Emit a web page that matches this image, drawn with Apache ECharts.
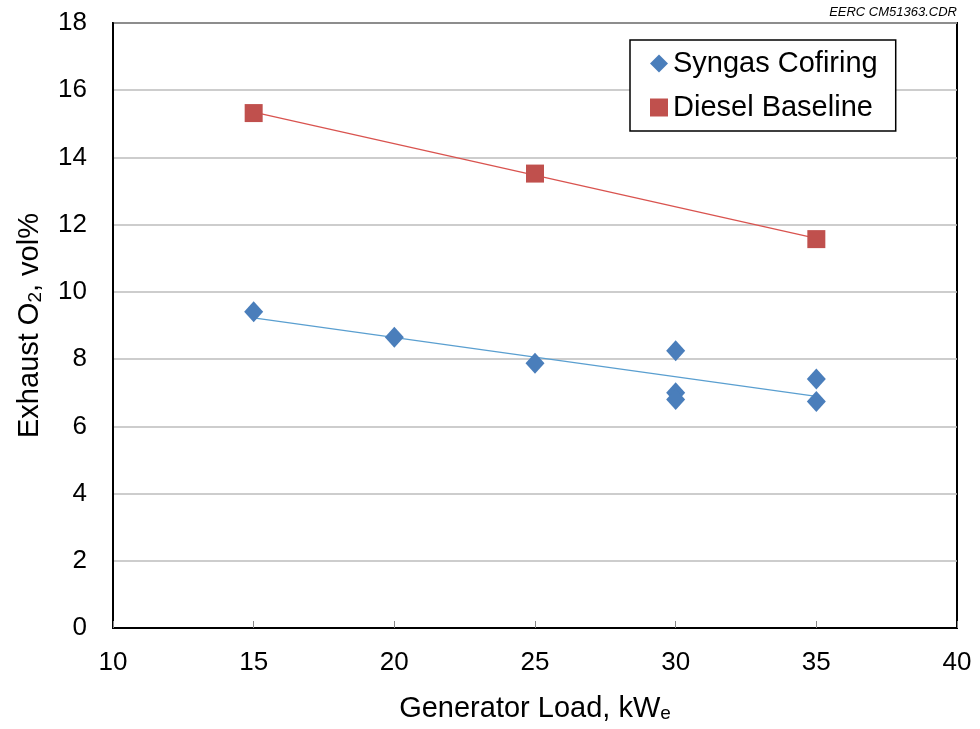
<!DOCTYPE html>
<html>
<head>
<meta charset="utf-8">
<script src="https://cdn.jsdelivr.net/npm/echarts@6/dist/echarts.min.js"></script>
<style>html,body{margin:0;padding:0;background:#fff;}#c{width:980px;height:729px;}</style>
</head>
<body>
<div id="c"></div>
<script>
// Data
const syngasLoad = [15, 20, 25, 30, 30, 30, 35, 35];
const syngasO2   = [9.41, 8.65, 7.88, 8.25, 7.00, 6.80, 7.41, 6.74];
const dieselLoad = [15, 25, 35];
const dieselO2   = [15.32, 13.52, 11.57];
const xTicks = [10, 15, 20, 25, 30, 35, 40];
const yTicks = [0, 2, 4, 6, 8, 10, 12, 14, 16, 18];

function fitLine(xs, ys) {
  const n = xs.length;
  const mx = xs.reduce((a, b) => a + b, 0) / n;
  const my = ys.reduce((a, b) => a + b, 0) / n;
  let sxy = 0, sxx = 0;
  for (let i = 0; i < n; i++) { sxy += (xs[i] - mx) * (ys[i] - my); sxx += (xs[i] - mx) ** 2; }
  const b = sxy / sxx, a = my - b * mx;
  const x0 = Math.min(...xs), x1 = Math.max(...xs);
  return [[x0, a + b * x0], [x1, a + b * x1]];
}

const chart = echarts.init(document.getElementById('c'));
const font = 'Liberation Sans, Arial, sans-serif';
chart.setOption({
  animation: false,
  backgroundColor: '#fff',
  textStyle: { fontFamily: font },
  grid: { left: 113, right: 23, top: 23, bottom: 101, show: true, borderColor: '#000', borderWidth: 2 },
  graphic: [{
    type: 'text', right: 23, top: 6,
    style: { text: 'EERC CM51363.CDR', font: 'italic 13px ' + font, fill: '#000' }
  }],
  legend: {
    orient: 'vertical', left: 630, top: 40,
    padding: [9, 18, 9, 20],
    borderColor: '#000', borderWidth: 1.5, backgroundColor: '#fff',
    itemGap: 15, itemWidth: 18, itemHeight: 18,
    textStyle: { fontSize: 29, color: '#000', fontFamily: font, padding: [0, 0, 0, 0] },
    data: [
      { name: 'Syngas Cofiring', icon: 'diamond' },
      { name: 'Diesel Baseline', icon: 'rect' }
    ]
  },
  xAxis: {
    type: 'value', min: 10, max: 40, interval: 5,
    name: '{a|Generator Load, kW}{s|e}',
    nameLocation: 'middle', nameGap: 66,
    nameTextStyle: {
      rich: {
        a: { fontSize: 29, color: '#000', fontFamily: font },
        s: { fontSize: 19, color: '#000', fontFamily: font, padding: [10, 0, 0, 0] }
      }
    },
    axisLine: { show: true, lineStyle: { color: '#000', width: 2 } },
    axisTick: { show: true, inside: true, length: 7, lineStyle: { color: '#888', width: 1 } },
    axisLabel: { fontSize: 26, color: '#000', margin: 22, fontFamily: font },
    splitLine: { show: false }
  },
  yAxis: {
    type: 'value', min: 0, max: 18, interval: 2,
    name: '{a|Exhaust O}{s|2}{a|, vol%}',
    nameLocation: 'middle', nameGap: 68, nameRotate: 90,
    nameTextStyle: {
      rich: {
        a: { fontSize: 29, color: '#000', fontFamily: font },
        s: { fontSize: 19, color: '#000', fontFamily: font, padding: [12, 0, 0, 0] }
      }
    },
    axisLine: { show: true, lineStyle: { color: '#000', width: 2 } },
    axisTick: { show: false },
    axisLabel: { fontSize: 26, color: '#000', margin: 26, fontFamily: font },
    splitLine: { show: true, lineStyle: { color: '#bcbcbc', width: 1.5 } }
  },
  series: [
    {
      name: 'Syngas Cofiring trend', type: 'line', data: fitLine(syngasLoad, syngasO2),
      symbol: 'none', lineStyle: { color: '#5a9fd0', width: 1.3 }, silent: true, z: 1
    },
    {
      name: 'Diesel Baseline trend', type: 'line', data: fitLine(dieselLoad, dieselO2),
      symbol: 'none', lineStyle: { color: '#d9534f', width: 1.3 }, silent: true, z: 1
    },
    {
      name: 'Syngas Cofiring', type: 'scatter', symbol: 'diamond', symbolSize: [19, 21],
      itemStyle: { color: '#4a7ebb', opacity: 1 }, z: 3,
      data: syngasLoad.map((x, i) => [x, syngasO2[i]])
    },
    {
      name: 'Diesel Baseline', type: 'scatter', symbol: 'rect', symbolSize: 18,
      itemStyle: { color: '#c0504d', opacity: 1 }, z: 3,
      data: dieselLoad.map((x, i) => [x, dieselO2[i]])
    }
  ]
});
</script>
</body>
</html>
